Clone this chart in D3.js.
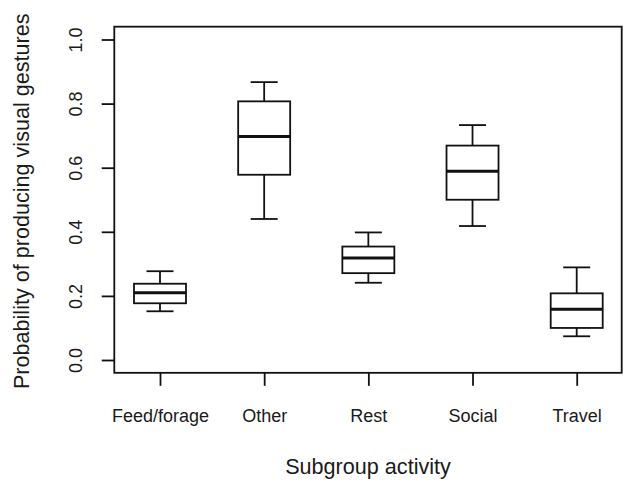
<!DOCTYPE html>
<html>
<head>
<meta charset="utf-8">
<script src="https://cdnjs.cloudflare.com/ajax/libs/d3/7.8.5/d3.min.js"></script>
<style>
  html, body { margin: 0; padding: 0; background: #fff; }
  svg { display: block; }
  text { font-family: "Liberation Sans", Arial, sans-serif; fill: #1a1a1a; }
</style>
</head>
<body>
<svg id="chart" width="633" height="483"></svg>
<script>
// ---- data ----
const categories = ["Feed/forage", "Other", "Rest", "Social", "Travel"];
const whiskerLow  = [0.152, 0.440, 0.241, 0.418, 0.074];
const q1          = [0.177, 0.578, 0.271, 0.500, 0.100];
const median      = [0.210, 0.697, 0.318, 0.589, 0.158];
const q3          = [0.238, 0.807, 0.354, 0.669, 0.208];
const whiskerHigh = [0.277, 0.867, 0.398, 0.733, 0.289];
const yTicks = [0.0, 0.2, 0.4, 0.6, 0.8, 1.0];
const yTickLabels = ["0.0", "0.2", "0.4", "0.6", "0.8", "1.0"];
const xTitle = "Subgroup activity";
const yTitle = "Probability of producing visual gestures";

// ---- layout ----
const frame = { left: 114.3, right: 621.7 };
const svg = d3.select("#chart");

const y = d3.scaleLinear().domain([0, 1]).range([360, 39.5]);
const x = d3.scalePoint().domain(categories).range([160, 576.7]);

const frameTop = y(1.04), frameBottom = y(-0.04);
const boxHalf = 26, capHalf = 13.5;

// frame
svg.append("rect")
  .attr("x", frame.left).attr("y", frameTop)
  .attr("width", frame.right - frame.left)
  .attr("height", frameBottom - frameTop)
  .attr("fill", "none").attr("stroke", "#111").attr("stroke-width", 1.8);

// y axis
const yAxis = d3.axisLeft(y).tickValues(yTicks)
  .tickFormat((d, i) => yTickLabels[i]).tickSize(12.6).tickPadding(8);
const gy = svg.append("g").attr("transform", `translate(${frame.left},0)`).call(yAxis);
gy.select(".domain").remove();
gy.selectAll(".tick line").attr("stroke", "#111").attr("stroke-width", 1.8);
gy.selectAll(".tick text")
  .attr("x", null).attr("dy", null)
  .attr("text-anchor", "middle")
  .attr("transform", "translate(-32.6,0) rotate(-90)")
  .style("font-size", "18px").attr("fill", "#1a1a1a");

// x axis
const xAxis = d3.axisBottom(x).tickSize(13).tickPadding(0);
const gx = svg.append("g").attr("transform", `translate(0,${frameBottom})`).call(xAxis);
gx.select(".domain").remove();
gx.selectAll(".tick line").attr("stroke", "#111").attr("stroke-width", 1.8);
gx.selectAll(".tick text")
  .attr("y", 49).attr("dy", null)
  .style("font-size", "18px").attr("fill", "#1a1a1a");

// titles
svg.append("text")
  .attr("x", (frame.left + frame.right) / 2).attr("y", 474)
  .attr("text-anchor", "middle").style("font-size", "21.6px")
  .text(xTitle);
svg.append("text")
  .attr("transform", `translate(29,${(frameTop + frameBottom) / 2 + 1.5}) rotate(-90)`)
  .attr("text-anchor", "middle").style("font-size", "21.6px")
  .text(yTitle);

// boxes
const data = categories.map((c, i) => ({
  c, lo: whiskerLow[i], q1: q1[i], med: median[i], q3: q3[i], hi: whiskerHigh[i]
}));
const g = svg.append("g").attr("stroke", "#111").attr("fill", "none");
const bx = g.selectAll("g.box").data(data).join("g").attr("class", "box");

// whiskers
bx.append("line").attr("x1", d => x(d.c)).attr("x2", d => x(d.c))
  .attr("y1", d => y(d.hi)).attr("y2", d => y(d.q3)).attr("stroke-width", 1.8);
bx.append("line").attr("x1", d => x(d.c)).attr("x2", d => x(d.c))
  .attr("y1", d => y(d.q1)).attr("y2", d => y(d.lo)).attr("stroke-width", 1.8);
// caps
bx.append("line").attr("x1", d => x(d.c) - capHalf).attr("x2", d => x(d.c) + capHalf)
  .attr("y1", d => y(d.hi)).attr("y2", d => y(d.hi)).attr("stroke-width", 1.8);
bx.append("line").attr("x1", d => x(d.c) - capHalf).attr("x2", d => x(d.c) + capHalf)
  .attr("y1", d => y(d.lo)).attr("y2", d => y(d.lo)).attr("stroke-width", 1.8);
// box
bx.append("rect").attr("x", d => x(d.c) - boxHalf).attr("width", boxHalf * 2)
  .attr("y", d => y(d.q3)).attr("height", d => y(d.q1) - y(d.q3))
  .attr("fill", "#fff").attr("stroke-width", 1.8);
// median
bx.append("line").attr("x1", d => x(d.c) - boxHalf).attr("x2", d => x(d.c) + boxHalf)
  .attr("y1", d => y(d.med)).attr("y2", d => y(d.med)).attr("stroke-width", 3);
</script>
</body>
</html>
